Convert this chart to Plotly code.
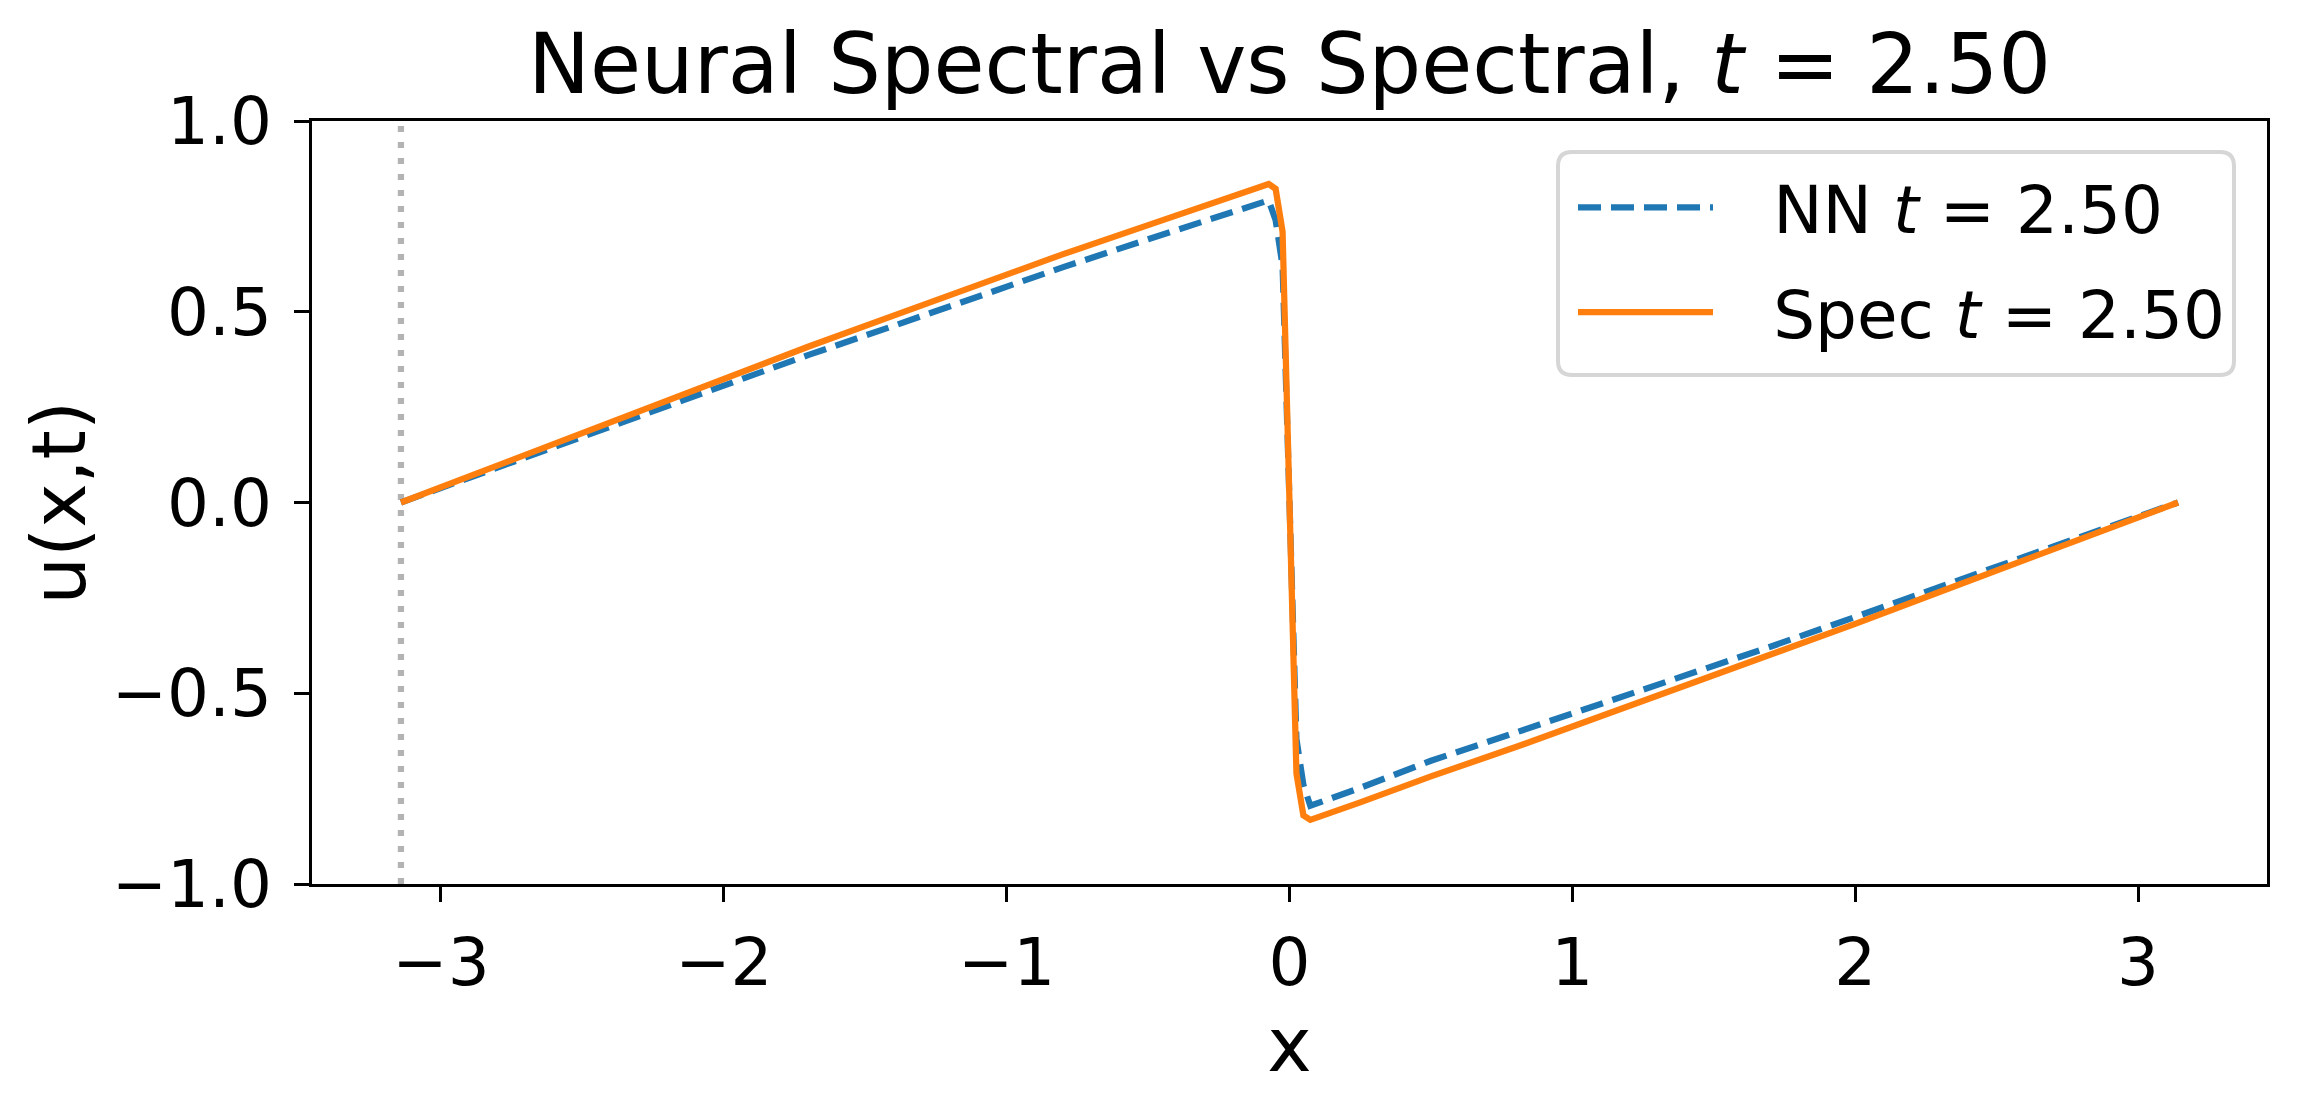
import plotly.graph_objects as go

# values (t = 2.50)
x_grid = [-3.1416, -2.9, -2.6, -2.3, -2.0, -1.7, -1.4, -1.1, -0.8, -0.5, -0.25,
          -0.0736, -0.049, -0.0245, 0.0, 0.0245, 0.049, 0.0736,
          0.25, 0.5, 0.8, 1.1, 1.4, 1.7, 2.0, 2.3, 2.6, 2.9, 3.1416]
u_spec = [0.0, 0.069, 0.155, 0.24, 0.326, 0.409, 0.49, 0.572, 0.651, 0.727, 0.789,
          0.835, 0.822, 0.71, 0.0, -0.71, -0.82, -0.832,
          -0.786, -0.718, -0.641, -0.561, -0.481, -0.40, -0.318, -0.234, -0.152, -0.068, 0.0]
u_nn = [0.0, 0.065, 0.147, 0.227, 0.308, 0.387, 0.463, 0.541, 0.617, 0.690, 0.750,
        0.792, 0.74, 0.62, 0.0, -0.62, -0.74, -0.795,
        -0.748, -0.677, -0.603, -0.528, -0.455, -0.378, -0.30, -0.22, -0.142, -0.063, 0.0]
x_boundary = -3.1416

x_ticks = [-3, -2, -1, 0, 1, 2, 3]
x_ticktext = ["\u22123", "\u22122", "\u22121", "0", "1", "2", "3"]
y_ticks = [-1.0, -0.5, 0.0, 0.5, 1.0]
y_ticktext = ["\u22121.0", "\u22120.5", "0.0", "0.5", "1.0"]

FONT = "DejaVu Sans"
OFF = 8  # page body margin
W, H = 2298 - 2 * OFF, 1099 - 2 * OFF
L, R, T, B = 312 - OFF, 2298 - 2267 - OFF, 121 - OFF, 1099 - 884 - OFF
pw, ph = W - L - R, H - T - B


def px(xs):
    return (xs - OFF - L) / pw


def py(ys):
    return 1 - (ys - OFF - T) / ph


fig = go.Figure()
gap = "\u00a0\u00a0\u2009"
fig.add_trace(go.Scatter(
    x=x_grid, y=u_nn, mode="lines", name=gap + "NN <i>t</i> = 2.50",
    line=dict(color="#1f77b4", width=6.25, dash="23px,10px"),
    legendgroup="nn",
))
fig.add_trace(go.Scatter(
    x=x_grid, y=u_spec, mode="lines", name=gap + "Spec <i>t</i> = 2.50",
    line=dict(color="#ff7f0e", width=6.25),
    legendgroup="spec",
))
fig.add_vline(x=x_boundary, line=dict(color="#b3b3b3", width=6.25, dash="6px,10px"),
              layer="below")

# legend frame (rounded box like matplotlib)
x0, x1, y0, y1 = px(1558), px(2234), py(152), py(375)
rx, ry = 14 / pw, 14 / ph
frame = (f"M{x0 + rx},{y0} L{x1 - rx},{y0} Q{x1},{y0} {x1},{y0 - ry} "
         f"L{x1},{y1 + ry} Q{x1},{y1} {x1 - rx},{y1} L{x0 + rx},{y1} "
         f"Q{x0},{y1} {x0},{y1 + ry} L{x0},{y0 - ry} Q{x0},{y0} {x0 + rx},{y0} Z")
fig.add_shape(type="path", path=frame, xref="paper", yref="paper",
              line=dict(color="#d6d6d6", width=4), fillcolor="rgba(255,255,255,0.85)",
              layer="above")

axis_common = dict(
    showline=True, linecolor="black", linewidth=3.3, mirror=True,
    ticks="outside", ticklen=14.6, tickwidth=3.3, tickcolor="black",
    showgrid=False, zeroline=False,
    tickfont=dict(family=FONT, size=66, color="black"),
)
fig.update_xaxes(range=[-3.456, 3.456], tickvals=x_ticks, ticktext=x_ticktext,
                 ticklabelstandoff=4,
                 title=dict(text="x", standoff=4,
                            font=dict(family=FONT, size=75, color="black")),
                 automargin=False, **axis_common)
fig.update_yaxes(range=[-1.0, 1.0], tickvals=y_ticks, ticktext=y_ticktext,
                 ticklabelstandoff=9, **axis_common)

fig.add_annotation(text="u(x,t)", xref="paper", yref="paper", x=px(58), y=0.5,
                   xanchor="center", yanchor="middle", textangle=-90, showarrow=False,
                   font=dict(family=FONT, size=75, color="black"))

fig.update_layout(
    width=W, height=H,
    margin=dict(l=L, r=R, t=T, b=B, pad=0),
    paper_bgcolor="white", plot_bgcolor="white",
    title=dict(text="Neural Spectral vs Spectral, <i>t</i> = 2.50",
               font=dict(family=FONT, size=83, color="black"),
               x=0.5, xref="paper", xanchor="center",
               y=1 - (64 - OFF) / H, yref="container", yanchor="middle"),
    legend=dict(
        x=px(1573), y=py(158), xanchor="left", yanchor="top",
        bgcolor="rgba(0,0,0,0)", borderwidth=0,
        font=dict(family=FONT, size=66, color="black"),
        itemwidth=135, tracegroupgap=16,
    ),
    showlegend=True,
)

fig.write_html("out.html")
